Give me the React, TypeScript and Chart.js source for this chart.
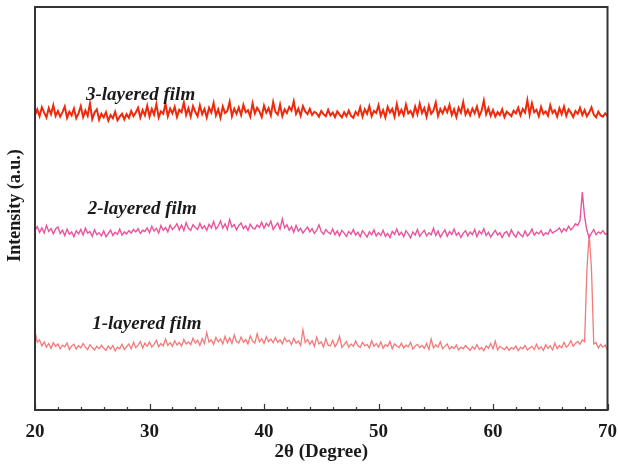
import React, { useEffect, useRef } from "react";
import { Chart, registerables } from "chart.js";

Chart.register(...registerables);

// 2θ from 20 to 70 in steps of 0.2 (251 points)
const X_START = 20;
const X_STEP = 0.2;

const THREE_LAYERED: number[] = [
  73.2, 74.6, 72.9, 75.1, 73.8, 72.6, 74.9, 73.4, 75.6, 73.0,
  74.2, 72.8, 73.9, 75.3, 72.5, 74.0, 73.1, 74.8, 72.4, 73.6,
  75.4, 72.7, 74.3, 73.0, 76.1, 72.2, 73.8, 74.6, 72.0, 73.5,
  72.6, 73.9, 71.8, 73.2, 72.4, 74.0, 71.9, 72.8, 73.5, 72.1,
  73.4, 72.5, 74.2, 72.9, 73.8, 75.0, 72.6, 74.4, 73.1, 75.5,
  72.8, 74.7, 73.3, 75.9, 72.6, 74.1, 73.5, 76.0, 72.9, 74.8,
  73.6, 75.2, 72.7, 74.5, 73.9, 76.3, 73.2, 74.9, 72.8, 75.4,
  74.0, 72.9, 75.6, 73.4, 74.7, 72.6, 75.0, 73.8, 76.2, 73.1,
  74.6, 72.5, 75.3, 73.7, 74.2, 76.5, 72.9, 74.8, 73.5, 75.1,
  73.2, 75.7, 73.9, 74.4, 72.8, 76.1, 73.6, 75.0, 74.1, 72.7,
  75.5, 73.8, 74.9, 73.1, 76.4, 74.0, 73.3, 75.8, 72.9, 74.6,
  73.7, 75.2, 74.3, 76.6, 73.5, 74.8, 73.0, 75.4, 74.1, 73.4,
  74.7, 73.2, 74.0, 73.6, 72.8, 74.2, 73.4, 72.9, 74.5, 73.1,
  73.8, 72.7, 74.1, 73.3, 72.6, 73.9, 72.9, 74.3, 73.0, 72.5,
  74.0, 73.2, 75.1, 72.8, 74.6, 73.5, 75.4, 72.9, 74.2, 73.7,
  75.6, 73.0, 74.4, 72.6, 75.2, 73.8, 74.7, 72.8, 75.9, 73.3,
  74.5, 73.1, 75.8, 73.6, 74.2, 72.9, 75.3, 73.4, 76.0, 73.7,
  74.9, 72.8, 75.5, 73.5, 74.3, 76.3, 73.0, 74.7, 73.6, 75.1,
  73.9, 75.7, 73.2, 74.6, 72.7, 75.0, 73.8, 76.4, 73.3, 74.5,
  73.1, 74.8, 73.6, 75.3, 72.9, 74.2, 76.8, 73.4, 74.9, 73.0,
  74.4, 72.8, 73.9, 73.2, 74.6, 72.7, 74.0, 73.5, 72.9, 74.3,
  73.6, 75.0, 73.1, 74.7, 73.8, 76.9, 73.3, 76.1, 73.9, 74.5,
  72.9, 75.2, 73.5, 74.1, 73.0, 75.6, 73.7, 74.4, 72.8, 74.9,
  73.4, 75.3, 73.0, 74.6, 73.8, 72.7, 74.2, 73.5, 75.0, 73.2,
  74.4, 72.9, 73.8, 75.1, 73.3, 72.6, 74.0, 73.1, 72.8, 73.6,
  73.0,
];

const TWO_LAYERED: number[] = [
  44.6, 45.5, 44.1, 45.2, 43.9, 45.8, 44.3, 45.0, 43.7, 44.9,
  45.4, 43.8, 44.6, 43.3, 44.9, 43.6, 44.2, 43.0, 44.5, 43.7,
  44.8, 43.4, 45.1, 43.9, 44.3, 43.1, 44.7, 43.5, 44.0, 43.2,
  44.4, 43.0, 43.8, 44.6, 43.3, 44.1, 43.6, 44.9, 43.4, 44.2,
  43.7, 44.5, 43.9, 44.8, 44.2, 45.0, 43.8, 44.6, 44.3, 45.2,
  44.0, 45.6, 44.4, 45.1, 43.9, 45.8, 44.6, 45.3, 44.2, 45.9,
  44.8, 45.4, 46.2, 44.7, 45.9, 44.5, 46.5, 45.1, 44.6, 46.0,
  45.3, 44.8, 46.3, 45.0, 45.7, 44.6, 46.1, 45.2, 46.8, 44.9,
  45.6, 46.9, 45.1, 46.2, 44.8, 47.3, 45.4, 46.0, 44.7, 45.8,
  46.4, 45.0, 45.7, 44.6, 46.1, 45.2, 44.9, 45.9, 45.3, 46.6,
  45.1, 46.3, 45.6, 46.9, 44.8, 45.7, 46.4, 44.9, 47.4, 45.2,
  46.0, 44.6, 45.5, 44.1, 45.8, 44.4, 45.1, 43.9, 44.7, 45.4,
  44.2, 45.0, 43.8, 44.6, 45.9, 44.3, 43.6, 44.8, 44.1, 43.7,
  44.9, 43.5, 44.4, 43.2, 44.6, 43.9, 43.1, 44.3, 43.6, 44.8,
  43.4, 44.1, 43.0, 44.5, 43.7, 42.9, 44.2, 43.5, 44.7, 43.2,
  44.0, 43.3, 44.6, 43.1, 43.8, 42.8, 44.3, 43.6, 44.9, 43.4,
  44.1, 43.0, 44.5, 43.7, 42.7, 44.2, 43.4, 44.8, 43.1, 43.9,
  44.6, 43.2, 44.0, 43.5, 45.1, 43.3, 44.4, 42.9, 43.8, 44.7,
  43.1, 44.3, 43.6, 44.9, 43.4, 44.0, 42.8, 43.9, 44.5, 43.2,
  44.2, 43.5, 44.8, 43.0, 44.4, 43.7, 45.0, 43.3, 44.1, 42.9,
  43.8, 44.6, 43.4, 44.0, 42.8, 43.9, 44.3, 43.1, 44.7, 43.6,
  42.9, 44.2, 43.5, 43.0, 44.4, 43.2, 43.8, 44.9, 43.4, 44.1,
  43.7, 44.5, 43.3, 44.0, 43.6, 44.8, 43.9, 44.3, 44.6, 45.2,
  44.1, 45.0, 44.4, 45.6, 44.7, 45.3, 46.2, 45.8, 47.0, 54.1,
  48.0, 44.6, 42.8, 43.9, 44.8, 43.5, 44.2, 43.8, 44.5, 43.6,
  43.9,
];

const ONE_LAYERED: number[] = [
  19.6, 16.8, 17.4, 15.9, 16.9, 15.6, 16.5, 15.3, 16.7, 15.8,
  16.4, 15.2, 16.1, 15.7, 16.6, 15.0, 15.9, 16.3, 15.1, 16.0,
  15.4, 16.5, 15.6, 15.0, 16.2, 15.5, 14.9, 15.8, 15.2, 16.1,
  15.3, 14.8, 15.9, 15.1, 16.0, 14.7, 15.6, 15.2, 16.3, 15.0,
  15.7, 16.4, 15.2, 16.8, 15.5, 16.1, 17.0, 15.4, 16.6, 15.8,
  16.9, 15.6, 16.3, 17.3, 15.7, 16.5, 15.9, 17.6, 16.0, 16.7,
  15.8, 17.2, 16.1, 16.8, 15.9, 17.5, 16.4, 16.9, 16.2, 17.8,
  16.6, 17.3, 16.0, 17.7, 16.5, 19.2, 16.8, 17.4, 16.3, 18.0,
  16.9, 17.6, 16.4, 18.3, 16.7, 17.9, 16.5, 18.6, 17.0, 16.6,
  18.1, 16.8, 17.5, 16.4, 18.4, 17.1, 16.6, 18.9, 16.9, 17.7,
  16.5, 18.2, 17.0, 17.6, 16.7, 18.0, 16.8, 17.4, 16.4, 17.9,
  16.9, 17.3, 16.2, 17.8, 16.6, 17.1, 16.0, 19.9, 16.7, 17.5,
  16.3, 17.2, 15.8, 18.1, 16.4, 16.9, 15.6, 17.7, 16.1, 15.9,
  17.3, 15.7, 16.6, 18.3, 15.5, 16.2, 17.0, 15.6, 16.4, 15.8,
  17.1, 16.0, 15.5, 16.8, 15.9, 16.3, 15.4, 17.2, 15.8, 16.5,
  15.6, 16.9, 15.3, 16.2, 15.8, 17.0, 15.2, 16.4, 15.9, 15.5,
  16.6, 15.4, 16.1, 15.7, 16.8, 15.1, 15.9, 16.3, 15.5, 16.0,
  15.3, 16.5, 15.0, 17.6, 15.4, 16.2, 15.6, 16.9, 15.2, 15.8,
  16.4, 15.1, 15.7, 15.3, 16.1, 14.9, 15.6, 15.2, 16.0, 15.4,
  14.8, 15.7, 15.1, 16.2, 15.0, 15.5, 14.7, 15.9, 15.3, 16.5,
  15.2, 17.1, 14.9, 15.8, 15.4, 15.0, 15.7, 14.8, 15.5, 15.1,
  15.9, 14.7, 15.6, 15.2, 16.0, 14.9, 15.4, 15.8, 15.0, 16.3,
  15.1, 15.7, 14.8, 16.2, 15.3, 15.9, 14.9, 16.6, 15.2, 16.0,
  15.4, 16.8, 15.6, 16.1, 17.2, 15.8, 16.5, 17.0, 16.3, 17.4,
  16.9, 34.8, 43.6, 35.0, 16.4, 16.7, 15.4, 16.3, 15.6, 16.1,
  14.9,
];

const SERIES_NAMES = ["3-layered film", "2-layered film", "1-layered film"];
const X_TICK_LABELS = [20, 30, 40, 50, 60, 70];
const X_TITLE = "2θ (Degree)";
const Y_TITLE = "Intensity (a.u.)";

const SERIF = "'Liberation Serif', 'Times New Roman', serif";

function toPoints(values: number[]) {
  return values.map((v, i) => ({ x: +(X_START + i * X_STEP).toFixed(2), y: v }));
}

const decorPlugin = {
  id: "decor",
  afterDatasetsDraw(chart: any) {
    const { ctx, chartArea } = chart;
    const xs = chart.scales.x;
    const ys = chart.scales.y;
    const { left, right, top, bottom } = chartArea;
    ctx.save();
    // inward ticks on bottom axis
    ctx.strokeStyle = "#333";
    ctx.lineWidth = 1.2;
    for (let v = 20; v <= 70; v += 2) {
      const px = Math.round(xs.getPixelForValue(v)) + 0.5;
      const len = v % 10 === 0 ? 6 : 3;
      ctx.beginPath();
      ctx.moveTo(px, bottom);
      ctx.lineTo(px, bottom - len);
      ctx.stroke();
    }
    // frame
    ctx.strokeStyle = "#333";
    ctx.lineWidth = 2;
    ctx.strokeRect(left, top, right - left, bottom - top);

    // series labels
    ctx.fillStyle = "#1a1a1a";
    ctx.font = `italic bold 19px ${SERIF}`;
    ctx.textAlign = "left";
    ctx.textBaseline = "middle";
    const anchors = [
      [24.45, 78.2],
      [24.6, 49.9],
      [25.0, 21.4],
    ];
    SERIES_NAMES.forEach((name, i) => {
      ctx.fillText(name, xs.getPixelForValue(anchors[i][0]), ys.getPixelForValue(anchors[i][1]));
    });

    // y title
    ctx.font = `bold 18px ${SERIF}`;
    ctx.textAlign = "center";
    ctx.translate(15, (top + bottom) / 2 - 3);
    ctx.rotate(-Math.PI / 2);
    ctx.fillText(Y_TITLE, 0, 0);
    ctx.restore();
  },
};

export default function App() {
  const ref = useRef<HTMLCanvasElement | null>(null);
  useEffect(() => {
    if (!ref.current) return;
    const chart = new Chart(ref.current, {
      type: "line",
      data: {
        datasets: [
          {
            label: SERIES_NAMES[0],
            data: toPoints(THREE_LAYERED),
            borderColor: "#EE2A0C",
            borderWidth: 2,
            pointRadius: 0,
            tension: 0,
          },
          {
            label: SERIES_NAMES[1],
            data: toPoints(TWO_LAYERED),
            borderColor: "#E8559E",
            borderWidth: 1.4,
            pointRadius: 0,
            tension: 0,
          },
          {
            label: SERIES_NAMES[2],
            data: toPoints(ONE_LAYERED),
            borderColor: "#F27A7A",
            borderWidth: 1.3,
            pointRadius: 0,
            tension: 0,
          },
        ],
      },
      options: {
        animation: false,
        responsive: true,
        maintainAspectRatio: false,
        layout: { padding: { left: 35, right: 1, top: 7, bottom: 0 } },
        plugins: {
          legend: { display: false },
          tooltip: { enabled: false },
        },
        scales: {
          x: {
            type: "linear",
            min: 20,
            max: 70,
            afterBuildTicks: (axis: any) => {
              axis.ticks = X_TICK_LABELS.map((v) => ({ value: v }));
            },
            ticks: {
              padding: 1,
              color: "#1a1a1a",
              font: { family: SERIF, size: 19, weight: "bold", lineHeight: 1 },
              maxRotation: 0,
            },
            grid: { display: false, drawTicks: true, tickLength: 11.5 },
            border: { display: false },
            title: {
              display: true,
              text: X_TITLE,
              color: "#1a1a1a",
              font: { family: SERIF, size: 19, weight: "bold", lineHeight: 1 },
              padding: { top: 0, bottom: 3.5 },
            },
          },
          y: {
            type: "linear",
            min: 0,
            max: 100,
            display: false,
          },
        },
      },
      plugins: [decorPlugin],
    });
    return () => chart.destroy();
  }, []);
  return (
    <div style={{ position: "fixed", left: 0, top: 0, width: 618, height: 465, background: "#fff" }}>
      <canvas ref={ref} />
    </div>
  );
}
